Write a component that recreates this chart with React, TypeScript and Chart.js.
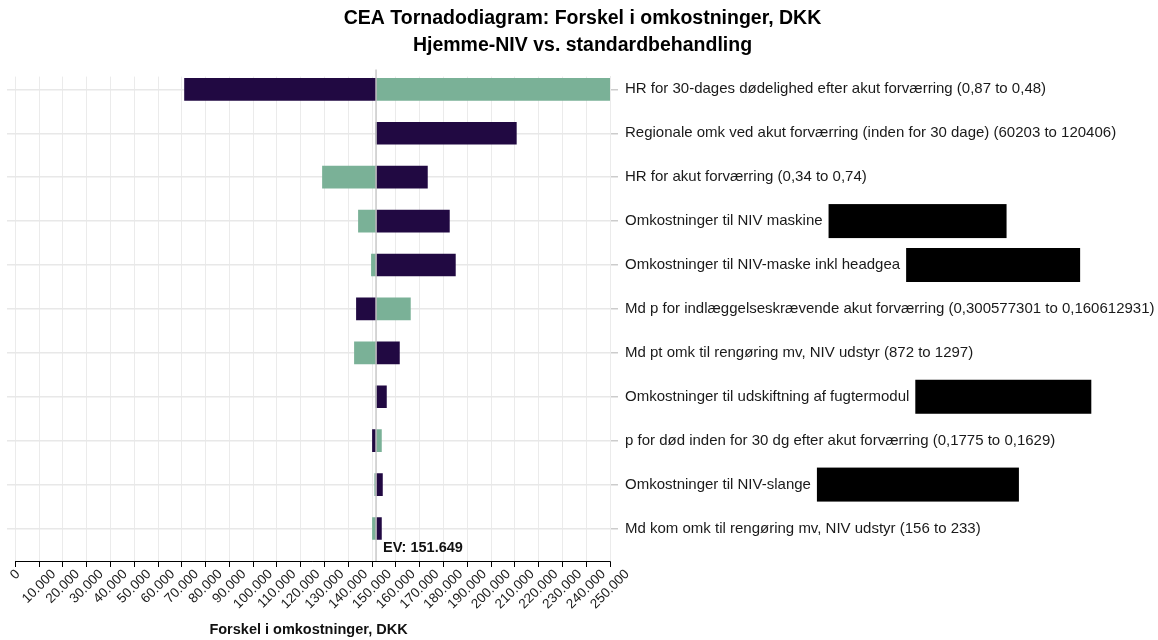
import React, { useEffect, useRef } from "react";
import { Chart, registerables } from "chart.js";

Chart.register(...registerables);

const titleLines = [
  "CEA Tornadodiagram: Forskel i omkostninger, DKK",
  "Hjemme-NIV vs. standardbehandling",
];
const xAxisTitle = "Forskel i omkostninger, DKK";

const categories = [
  "HR for 30-dages dødelighed efter akut forværring (0,87 to 0,48)",
  "Regionale omk ved akut forværring (inden for 30 dage) (60203 to 120406)",
  "HR for akut forværring (0,34 to 0,74)",
  "Omkostninger til NIV maskine",
  "Omkostninger til NIV-maske inkl headgea",
  "Md p for indlæggelseskrævende akut forværring (0,300577301 to 0,160612931)",
  "Md pt omk til rengøring mv, NIV udstyr (872 to 1297)",
  "Omkostninger til udskiftning af fugtermodul",
  "p for død inden for 30 dg efter akut forværring (0,1775 to 0,1629)",
  "Omkostninger til NIV-slange",
  "Md kom omk til rengøring mv, NIV udstyr (156 to 233)",
];

const expectedValue = 151649;

// result at one end of each parameter range (dark bars)
const darkResults = [71130, 210630, 173240, 182480, 185000, 143400, 161470, 156010, 150130, 154330, 153910];
// result at the other end of each parameter range (green bars)
const greenResults = [250000, 151649, 129120, 144240, 149700, 166090, 142560, 151649, 153910, 151090, 150130];

const xTickValues = [
  0, 10000, 20000, 30000, 40000, 50000, 60000, 70000, 80000, 90000, 100000,
  110000, 120000, 130000, 140000, 150000, 160000, 170000, 180000, 190000, 200000,
  210000, 220000, 230000, 240000, 250000,
];

// widths of the black redaction boxes after some labels (0 = none)
const redactedLabelWidths = [0, 0, 0, 178, 174, 0, 0, 176, 0, 202, 0];

const DARK = "#210942";
const GREEN = "#7ab197";
const FONT = "'Liberation Sans', Arial, sans-serif";
const X_TICK_FONT = 13.5;
const Y_TICK_FONT = 15;

function fmt(v: number): string {
  return Math.round(v)
    .toString()
    .replace(/\B(?=(\d{3})+(?!\d))/g, ".");
}

const overlayPlugin = {
  id: "tornadoOverlay",
  afterDatasetsDraw(chart: any) {
    const { ctx, chartArea, scales } = chart;
    const xs = scales.x;
    const ys = scales.y;
    ctx.save();
    // x axis line from first to last tick
    ctx.strokeStyle = "#000";
    ctx.lineWidth = 1;
    ctx.beginPath();
    const x0 = xs.getPixelForValue(xTickValues[0]);
    const x1 = xs.getPixelForValue(xTickValues[xTickValues.length - 1]);
    ctx.moveTo(x0, chartArea.bottom + 0.5);
    ctx.lineTo(x1 + 0.5, chartArea.bottom + 0.5);
    ctx.stroke();
    // x tick labels, rotated 45 degrees and centred under each tick
    ctx.font = `${X_TICK_FONT}px ${FONT}`;
    ctx.fillStyle = "#1a1a1a";
    ctx.textAlign = "right";
    ctx.textBaseline = "middle";
    xTickValues.forEach((v) => {
      const label = fmt(v);
      const L = ctx.measureText(label).width;
      const px = xs.getPixelForValue(v);
      ctx.save();
      ctx.translate(px + (L * 0.7071) / 2, chartArea.bottom + 11);
      ctx.rotate(-Math.PI / 4);
      ctx.fillText(label, 0, 0);
      ctx.restore();
    });
    // EV line
    const xe = xs.getPixelForValue(expectedValue);
    ctx.strokeStyle = "#c8c8c8";
    ctx.lineWidth = 1.5;
    ctx.beginPath();
    ctx.moveTo(xe, chartArea.top - 7);
    ctx.lineTo(xe, chartArea.bottom);
    ctx.stroke();
    // EV label
    ctx.fillStyle = "#111";
    ctx.font = `bold 14.5px ${FONT}`;
    ctx.textBaseline = "middle";
    ctx.textAlign = "left";
    ctx.fillText("EV: " + fmt(expectedValue), xe + 7, chartArea.bottom - 13);
    // redaction boxes
    ctx.font = `${Y_TICK_FONT}px ${FONT}`;
    const labelLeft = ys.left + 8 + 7;
    categories.forEach((c, i) => {
      const w = redactedLabelWidths[i];
      if (!w) return;
      const tw = ctx.measureText(c).width;
      const y = ys.getPixelForValue(i);
      ctx.fillStyle = "#000";
      ctx.fillRect(labelLeft + tw + 6, y - 17, w, 34);
    });
    ctx.restore();
  },
};

export default function App() {
  const ref = useRef<HTMLCanvasElement | null>(null);
  useEffect(() => {
    if (!ref.current) return;
    const chart = new Chart(ref.current, {
      type: "bar",
      data: {
        datasets: [
          {
            label: "Dark",
            data: darkResults.map((v, i) => ({ x: [expectedValue, v], y: i })) as any,
            backgroundColor: DARK,
            borderWidth: 0,
            barThickness: 22,
            grouped: false,
          },
          {
            label: "Green",
            data: greenResults.map((v, i) => ({ x: [expectedValue, v], y: i })) as any,
            backgroundColor: GREEN,
            borderWidth: 0,
            barThickness: 22,
            grouped: false,
          },
        ],
      },
      plugins: [overlayPlugin],
      options: {
        indexAxis: "y",
        animation: false,
        responsive: false,
        layout: { padding: { left: 7, right: 0, top: 0, bottom: 0 } },
        plugins: {
          legend: { display: false },
          tooltip: { enabled: false },
          title: {
            display: true,
            text: titleLines,
            color: "#000",
            font: { family: FONT, size: 19.5, weight: "bold", lineHeight: 1.4 },
            padding: { top: 5, bottom: 17 },
          },
        },
        scales: {
          x: {
            type: "linear",
            min: -3500,
            max: 250000,
            offset: false,
            afterBuildTicks: (scale: any) => {
              scale.ticks = xTickValues.map((v) => ({ value: v }));
            },
            afterFit: (scale: any) => {
              scale.height = 79;
            },
            grid: {
              color: "#ebebeb",
              lineWidth: 1,
              offset: false,
              drawTicks: true,
              tickLength: 6,
              tickColor: "#000",
              tickWidth: 1,
            },
            border: { display: false },
            ticks: {
              display: false,
              autoSkip: false,
            },
            title: {
              display: true,
              text: xAxisTitle,
              color: "#111",
              font: { family: FONT, size: 14.5, weight: "bold" },
              padding: { top: 4, bottom: 1 },
            },
          },
          y: {
            type: "linear",
            position: "right",
            reverse: true,
            offset: false,
            min: -0.29,
            max: 10.74,
            afterBuildTicks: (scale: any) => {
              scale.ticks = categories.map((_, i) => ({ value: i }));
            },
            afterFit: (scale: any) => {
              scale.width = 548;
            },
            grid: {
              color: "#e8e8e8",
              lineWidth: 1.5,
              offset: false,
              drawTicks: true,
              tickLength: 8,
              tickColor: "#cccccc",
            },
            border: { display: true, color: "#ebebeb" },
            ticks: {
              autoSkip: false,
              padding: 7,
              color: "#1a1a1a",
              font: { family: FONT, size: Y_TICK_FONT },
              callback: (v: any) => categories[Number(v)] ?? "",
            },
          },
        },
      } as any,
    });
    return () => chart.destroy();
  }, []);
  return (
    <div style={{ position: "absolute", left: 0, top: 0, width: 1158, height: 640, background: "#fff" }}>
      <canvas ref={ref} width={1158} height={640} style={{ display: "block" }} />
    </div>
  );
}
